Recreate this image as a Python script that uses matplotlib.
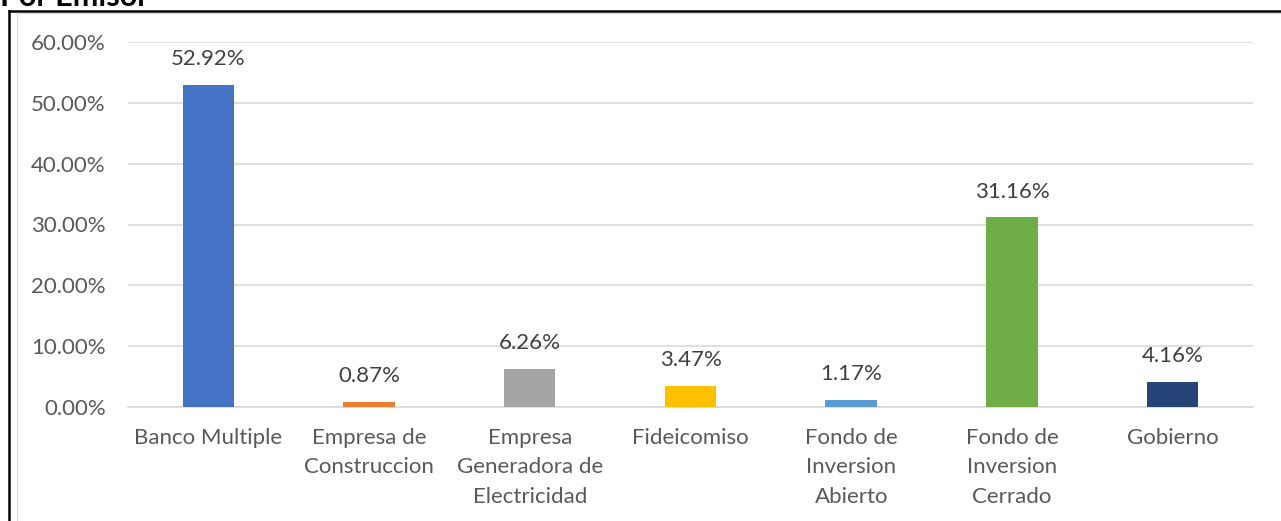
import matplotlib
matplotlib.use("Agg")
import matplotlib.pyplot as plt
from matplotlib.lines import Line2D
import numpy as np

categories = ["Banco Multiple", "Empresa de\nConstruccion", "Empresa\nGeneradora de\nElectricidad",
              "Fideicomiso", "Fondo de\nInversion\nAbierto", "Fondo de\nInversion\nCerrado", "Gobierno"]
values = [52.92, 0.87, 6.26, 3.47, 1.17, 31.16, 4.16]
colors = ["#4472C4", "#ED7D31", "#A5A5A5", "#FFC000", "#5B9BD5", "#70AD47", "#264478"]
yticks = [0, 10, 20, 30, 40, 50, 60]

plt.rcParams['font.family'] = ['Lato', 'DejaVu Sans']

W, H = 1281, 521
fig = plt.figure(figsize=(W / 100, H / 100), dpi=100)
ax = fig.add_axes([128 / W, 1 - 407 / H, (1253 - 128) / W, (407 - 42) / H])

x = np.arange(len(categories))
ax.bar(x, values, width=0.32, color=colors, zorder=3)
for xi, v in zip(x, values):
    ax.text(xi, v + 2.6, f"{v:.2f}%", ha="center", va="bottom", fontsize=16, color="#404040")

ax.set_xlim(-0.5, len(categories) - 0.5)
ax.set_ylim(0, 60)
ax.set_yticks(yticks)
ax.set_yticklabels([f"{t:.2f}%" for t in yticks])
ax.set_xticks(x)
ax.set_xticklabels(categories, linespacing=1.6)
ax.tick_params(axis="both", length=0, labelsize=16, labelcolor="#595959")
ax.tick_params(axis="y", pad=16)
ax.tick_params(axis="x", pad=15)
ax.grid(axis="y", color="#D9D9D9", linewidth=1.2, zorder=0)
for s in ["top", "right", "left"]:
    ax.spines[s].set_visible(False)
ax.spines["bottom"].set_color("#D9D9D9")
ax.spines["bottom"].set_linewidth(1.2)

# borders
fig.add_artist(Line2D([8.5 / W, 1], [1 - 10.5 / H, 1 - 10.5 / H], color="black", linewidth=1.8, transform=fig.transFigure))
fig.add_artist(Line2D([8.5 / W, 8.5 / W], [1 - 10.5 / H, 0], color="black", linewidth=1.8, transform=fig.transFigure))
fig.add_artist(Line2D([16.5 / W, 16.5 / W], [1 - 12.5 / H, 0], color="#D9D9D9", linewidth=0.8, transform=fig.transFigure))
fig.add_artist(Line2D([16.5 / W, 1], [1 - 12.5 / H, 1 - 12.5 / H], color="#D9D9D9", linewidth=0.8, transform=fig.transFigure))

fig.text(0.0, 1 - 6 / H, "Por Emisor", fontsize=22, fontweight="bold", color="black", ha="left", va="baseline")

fig.savefig("out.png", dpi=100, facecolor="white")
